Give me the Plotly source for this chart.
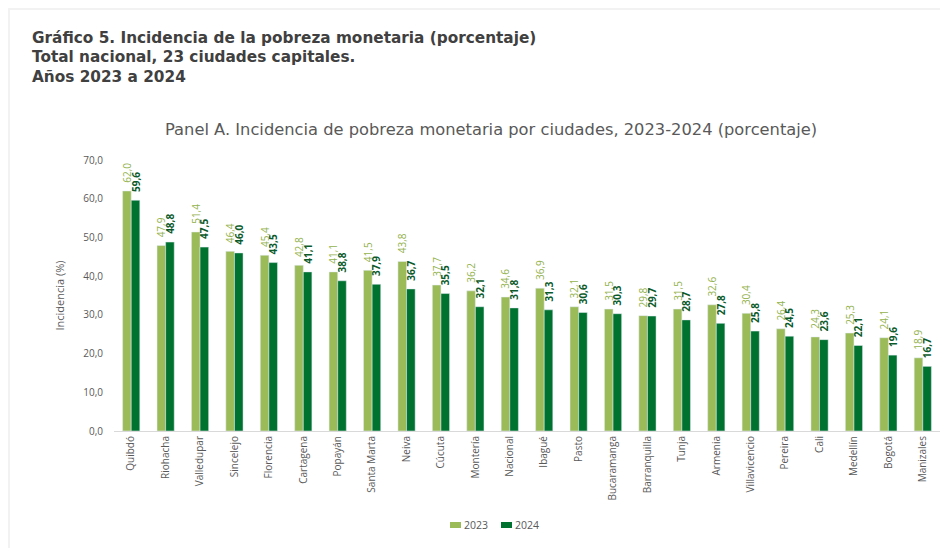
import plotly.graph_objects as go

ciudades = ["Quibdó", "Riohacha", "Valledupar", "Sincelejo", "Florencia", "Cartagena",
            "Popayán", "Santa Marta", "Neiva", "Cúcuta", "Montería", "Nacional", "Ibagué",
            "Pasto", "Bucaramanga", "Barranquilla", "Tunja", "Armenia", "Villavicencio",
            "Pereira", "Cali", "Medellín", "Bogotá", "Manizales"]
v2023 = [62.0, 47.9, 51.4, 46.4, 45.4, 42.8, 41.1, 41.5, 43.8, 37.7, 36.2, 34.6, 36.9,
         32.1, 31.5, 29.8, 31.5, 32.6, 30.4, 26.4, 24.3, 25.3, 24.1, 18.9]
v2024 = [59.6, 48.8, 47.5, 46.0, 43.5, 41.1, 38.8, 37.9, 36.7, 35.5, 32.1, 31.8, 31.3,
         30.6, 30.3, 29.7, 28.7, 27.8, 25.8, 24.5, 23.6, 22.1, 19.6, 16.7]
y_ticks = [0, 10, 20, 30, 40, 50, 60, 70]
series_names = ["2023", "2024"]

C23 = "#9BBB59"
C24 = "#00722F"
FONT = "Open Sans"
NB = "\u00a0"

def fmt(v):
    return f"{v:.1f}".replace(".", ",")

# figure geometry (page body adds 8 px offset)
W, H = 940, 540
L, R, T, B = 106, 8, 152, 117
PW, PH = W - L - R, H - T - B

def px(xf):
    return (xf - L) / PW

def py(yf):
    return 1 + (T - yf) / PH

fig = go.Figure()
fig.add_trace(go.Bar(
    name=series_names[0], x=ciudades, y=v2023, marker_color=C23,
    text=[NB + NB + fmt(v) for v in v2023], textposition="outside", textangle=-90,
    textfont=dict(family=FONT, size=10, color="#93B24E"), constraintext="none",
    cliponaxis=False, showlegend=False))
fig.add_trace(go.Bar(
    name=series_names[1], x=ciudades, y=v2024, marker_color=C24,
    text=[NB + NB + f"<b>{fmt(v)}</b>" for v in v2024], textposition="outside", textangle=-90,
    textfont=dict(family=FONT, size=10, color="#0B5A2A"), constraintext="none",
    cliponaxis=False, showlegend=False))

fig.update_layout(
    width=W, height=H,
    margin=dict(l=L, r=R, t=T, b=B),
    paper_bgcolor="white", plot_bgcolor="white",
    separators=",.",
    barmode="group", bargap=0.5, bargroupgap=0.0,
    font=dict(family=FONT, color="#595959"),
    xaxis=dict(tickangle=-90, tickfont=dict(size=10, color="#595959"),
               showline=True, linecolor="#D9D9D9", linewidth=1, ticks="",
               showgrid=False),
    yaxis=dict(range=[0, 70], tickvals=y_ticks, tickformat=".1f",
               tickfont=dict(size=10, color="#595959"), showgrid=False,
               zeroline=False, showline=False, ticks="", ticklabelstandoff=10,
               title=dict(text="Incidencia (%)", font=dict(size=11, color="#595959"),
                          standoff=16)),
)

# compact legend (small swatches next to labels)
for (x0, name, col) in [(442, series_names[0], C23), (493, series_names[1], C24)]:
    fig.add_shape(type="rect", xref="paper", yref="paper",
                  x0=px(x0), x1=px(x0 + 11), y0=py(520), y1=py(514),
                  fillcolor=col, line_width=0)
    fig.add_annotation(text=name, xref="paper", yref="paper", x=px(x0 + 12),
                       xanchor="left", y=py(517), yanchor="middle", showarrow=False,
                       font=dict(family=FONT, size=10.5, color="#595959"))

titles = ["Gráfico 5. Incidencia de la pobreza monetaria (porcentaje)",
          "Total nacional, 23 ciudades capitales.",
          "Años 2023 a 2024"]
for i, t in enumerate(titles):
    fig.add_annotation(text=f"<b>{t}</b>", xref="paper", yref="paper",
                       x=px(22), xanchor="left",
                       y=py(30 + i * 19.5), yanchor="middle",
                       showarrow=False,
                       font=dict(family="DejaVu Sans", size=15.3, color="#404040"))

fig.add_annotation(text="Panel A. Incidencia de pobreza monetaria por ciudades, 2023-2024 (porcentaje)",
                   xref="paper", yref="paper", x=px(483), xanchor="center",
                   y=py(122), yanchor="middle", showarrow=False,
                   font=dict(family="DejaVu Sans", size=16.3, color="#595959"))

# subtle frame shadow on left and top edges
fig.add_shape(type="rect", xref="paper", yref="paper",
              x0=px(0), x1=px(940), y0=py(2), y1=py(0),
              fillcolor="#F2F2F2", line_width=0, layer="below")
fig.add_shape(type="rect", xref="paper", yref="paper",
              x0=px(0), x1=px(2), y0=py(540), y1=py(0),
              fillcolor="#F2F2F2", line_width=0, layer="below")

fig.write_html("out.html")
